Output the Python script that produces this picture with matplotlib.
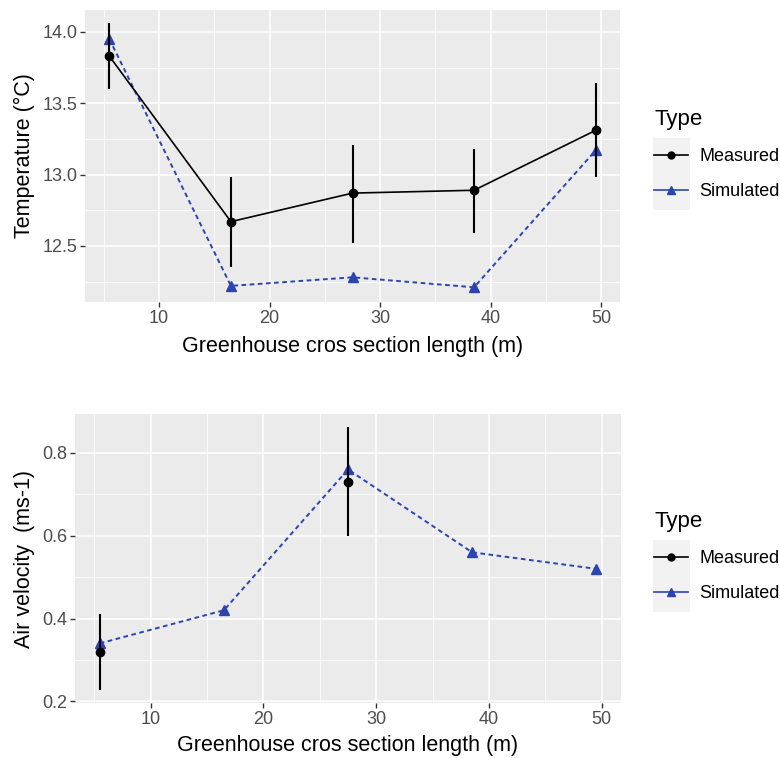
import matplotlib
matplotlib.use("Agg")
import matplotlib.pyplot as plt
from matplotlib.lines import Line2D
from matplotlib.patches import Rectangle
from matplotlib.ticker import MultipleLocator
import numpy as np

plt.rcParams.update({
    "font.family": ["Liberation Sans", "DejaVu Sans"],
})

# ===== DATA =====
x_pos = [5.5, 16.5, 27.5, 38.5, 49.5]

temp_meas = [13.83, 12.67, 12.87, 12.89, 13.31]
temp_lo   = [13.60, 12.35, 12.52, 12.59, 12.98]
temp_hi   = [14.06, 12.98, 13.21, 13.18, 13.64]
temp_sim  = [13.95, 12.22, 12.28, 12.21, 13.17]

vel_x_meas = [5.5, 27.5]
vel_meas   = [0.32, 0.73]
vel_lo     = [0.228, 0.60]
vel_hi     = [0.411, 0.862]
vel_sim    = [0.34, 0.42, 0.76, 0.56, 0.52]

C_MEAS = "black"
C_SIM = "#2a44b0"
PANEL = "#EBEBEB"
W, H = 780, 758

fig = plt.figure(figsize=(W / 100, H / 100), dpi=100)


def ax_px(l, t, r, b):
    return fig.add_axes([l / W, 1 - b / H, (r - l) / W, (b - t) / H])


def gg_style(a, xmaj, xmin, ymaj, ymin, fmt):
    a.set_facecolor(PANEL)
    for s in a.spines.values():
        s.set_visible(False)
    a.xaxis.set_major_locator(MultipleLocator(xmaj))
    a.xaxis.set_minor_locator(MultipleLocator(xmin))
    a.yaxis.set_major_locator(MultipleLocator(ymaj))
    a.yaxis.set_minor_locator(MultipleLocator(ymin))
    a.yaxis.set_major_formatter(fmt)
    a.grid(which="major", color="white", lw=1.1)
    a.grid(which="minor", color="white", lw=0.55)
    a.set_axisbelow(True)
    a.tick_params(which="major", length=3.5, width=1.0, color="#333333",
                  labelsize=13, labelcolor="#4d4d4d", pad=2)
    a.tick_params(which="minor", length=0)


def draw_panel(a, xm, ym, lo, hi, ys, connect_meas):
    a.plot(x_pos, ys, color=C_SIM, lw=1.4, ls=(0, (2.4, 1.8)), zorder=3)
    a.plot(x_pos, ys, color=C_SIM, lw=0, marker="^", ms=7.5, zorder=4)
    a.vlines(xm, lo, hi, color=C_MEAS, lw=1.5, zorder=5)
    if connect_meas:
        a.plot(xm, ym, color=C_MEAS, lw=1.2, zorder=5)
    a.plot(xm, ym, color=C_MEAS, lw=0, marker="o", ms=6, zorder=6)


def add_legend(top_px):
    handles = [
        Line2D([], [], color=C_MEAS, lw=1.2, marker="o", ms=5),
        Line2D([], [], color=C_SIM, lw=1.2, marker="^", ms=6),
    ]
    fig.patches.append(Rectangle((653 / W, 1 - (top_px + 110) / H), 37 / W, 72 / H,
                                 transform=fig.transFigure, facecolor="#F2F2F2",
                                 edgecolor="none", zorder=0))
    leg = fig.legend(handles, ["Measured", "Simulated"], title="Type",
                     loc="upper left", bbox_to_anchor=(647 / W, 1 - (top_px + 2) / H),
                     frameon=False, fontsize=13, title_fontsize=16,
                     handlelength=1.85, labelspacing=1.0, handletextpad=0.65,
                     borderaxespad=0)
    leg._legend_box.align = "left"


# ===== TOP: temperature =====
a1 = ax_px(85, 10, 620, 302)
draw_panel(a1, x_pos, temp_meas, temp_lo, temp_hi, temp_sim, True)
a1.set_xlim(3.3, 51.7)
a1.set_ylim(12.107, 14.153)
gg_style(a1, 10, 5, 0.5, 0.25, "{x:.1f}")
a1.set_xlabel("Greenhouse cros section length (m)", fontsize=15.5, labelpad=7)
a1.set_ylabel("Temperature (\u00b0C)", fontsize=15.5, labelpad=5)
add_legend(100)

# ===== BOTTOM: air velocity =====
a2 = ax_px(75, 414, 621, 703)
draw_panel(a2, vel_x_meas, vel_meas, vel_lo, vel_hi, vel_sim, False)
a2.set_xlim(3.3, 51.7)
a2.set_ylim(0.196, 0.894)
gg_style(a2, 10, 5, 0.2, 0.1, "{x:.1f}")
a2.set_xlabel("Greenhouse cros section length (m)", fontsize=15.5, labelpad=5)
a2.set_ylabel("Air velocity  (ms-1)", fontsize=15.5, labelpad=5)
add_legend(502)

fig.savefig("out.png", dpi=100)
